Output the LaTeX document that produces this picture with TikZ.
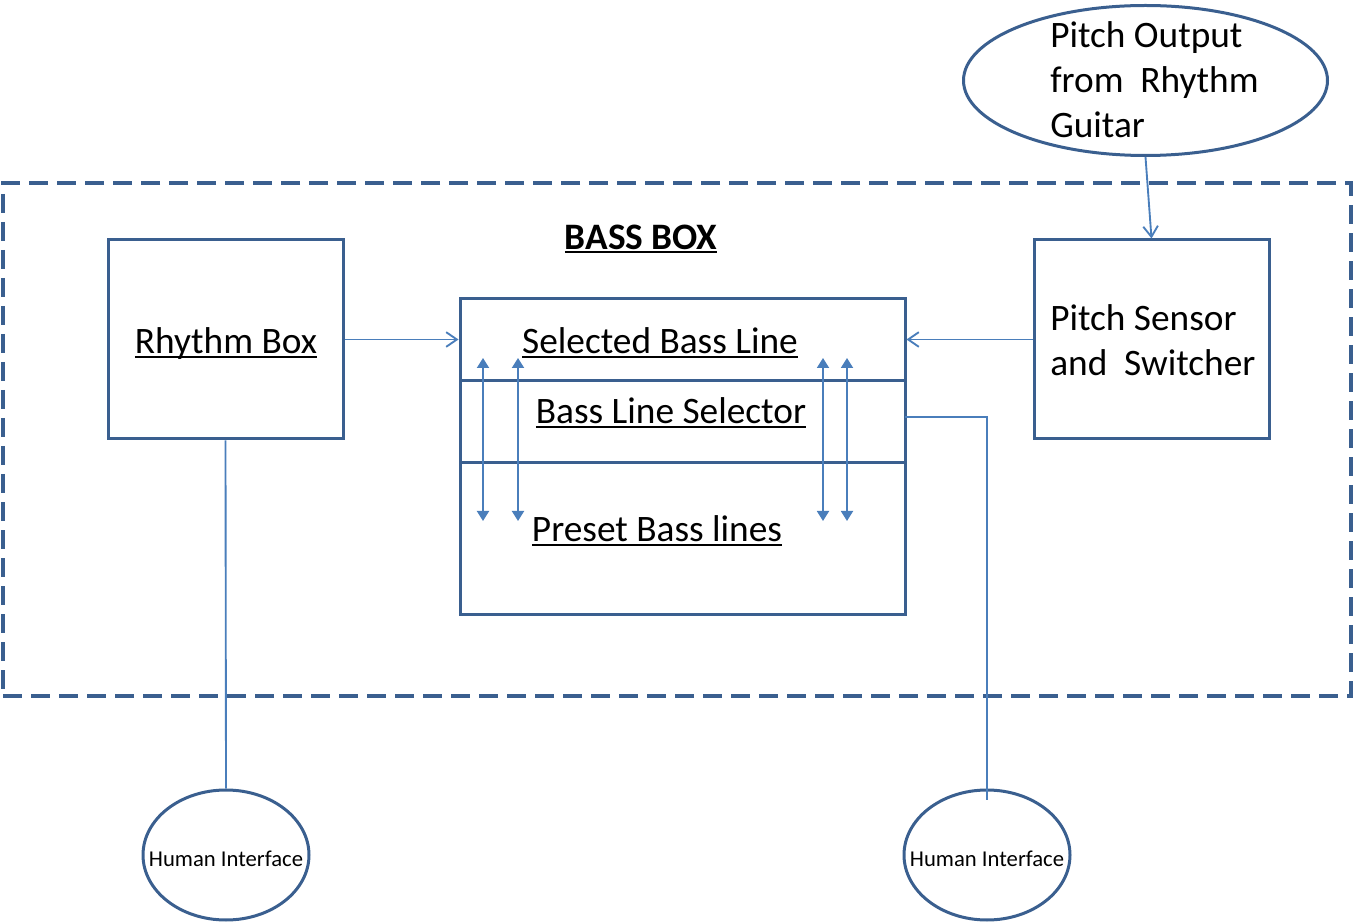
\documentclass[tikz,border=0pt]{standalone}
\usepackage{fontspec}
\setmainfont{Carlito}
\usetikzlibrary{arrows.meta,shapes.geometric}
\definecolor{shapeblue}{HTML}{3A5F8F}
\definecolor{lineblue}{HTML}{4A7EBB}
\newcommand\myul[1]{\setbox0\hbox{#1}\rlap{\rule[-3pt]{\wd0}{1.5pt}}\box0}
\begin{document}
\begin{tikzpicture}[x=0.75pt,y=-0.75pt,
  blk/.style={draw=shapeblue,line width=2.25pt,inner sep=0pt,rectangle},
  ell/.style={draw=shapeblue,line width=2.25pt,inner sep=0pt,ellipse},
  conn/.style={draw=lineblue,line width=1.4pt},
  openarrow/.style={-{Straight Barb[length=8pt,width=11pt]}},
  dblarrow/.style={{Triangle[length=7.5pt,width=9pt]}-{Triangle[length=7.5pt,width=9pt]}},
  big/.style={font=\fontsize{28}{33.75}\selectfont,inner sep=0pt},
  small/.style={font=\fontsize{17}{20}\selectfont,inner sep=0pt}]
\useasboundingbox (0,0) rectangle (1354,923);

% outer dashed boundary
\node[draw=shapeblue,line width=3pt,dash pattern=on 14pt off 7pt,rectangle,
      minimum width=1011pt,minimum height=384.75pt,inner sep=0pt] (bassbox) at (677,439.5) {};

% boxes
\node[blk,minimum width=176.25pt,minimum height=149.25pt] (rb) at (225.5,339.5) {};
\node[blk,minimum width=176.25pt,minimum height=149.25pt] (ps) at (1151.5,339.5) {};
\node[blk,minimum width=333.75pt,minimum height=236.25pt] (mid) at (682.5,456.5) {};
\draw[draw=shapeblue,line width=2.25pt] (460,381) -- (905,381);
\draw[draw=shapeblue,line width=2.25pt] (460,463) -- (905,463);

% ellipses
\node[ell,minimum width=273pt,minimum height=112.5pt] (po) at (1145.5,80.5) {};
\node[ell,minimum width=124.5pt,minimum height=97.5pt,small] (hi1) at (226,855) {};
\node[ell,minimum width=124.5pt,minimum height=97.5pt,small] (hi2) at (987,855) {};

% texts
\node[big,anchor=base] (t1) at (641,249.5) {\myul{\bfseries BASS BOX}};
\node[big,anchor=base] (t2) at (226,354) {\myul{Rhythm Box}};
\node[big,anchor=base] (t3) at (660,354) {\myul{Selected Bass Line}};
\node[big,anchor=base] (t4) at (671,424) {\myul{Bass Line Selector}};
\node[big,anchor=base] (t5) at (657,541.5) {\myul{Preset Bass lines}};
\node[big,anchor=base west] (ps1) at (1050,330.5) {Pitch Sensor};
\node[big,anchor=base west] (ps2) at (1050,375.5) {and\ \ Switcher};
\node[big,anchor=base west] (po1) at (1050,48) {Pitch Output};
\node[big,anchor=base west] (po2) at (1050,93) {from\ \ Rhythm};
\node[big,anchor=base west] (po3) at (1050,138) {Guitar};
\node[small,anchor=base] (h1) at (226,866) {Human Interface};
\node[small,anchor=base] (h2) at (987,866) {Human Interface};

% connectors
\draw[conn,openarrow] (rb.east) -- (rb.east -| mid.west);
\draw[conn,openarrow] (ps.west) -- (ps.west -| mid.east);
\draw[conn,openarrow] (po.south) -- (ps.north);
\draw[conn] (rb.south) -- (hi1.north);
\coordinate (selout) at (905,417);
\coordinate (hi2top) at (987,800);
\draw[conn] (selout) -| (hi2top);

% double arrows
\coordinate (a1t) at (483,358); \coordinate (a1b) at (483,521);
\coordinate (a2t) at (518,358); \coordinate (a2b) at (518,521);
\coordinate (a3t) at (823,358); \coordinate (a3b) at (823,521);
\coordinate (a4t) at (847,358); \coordinate (a4b) at (847,521);
\draw[conn,dblarrow] (a1t) -- (a1b);
\draw[conn,dblarrow] (a2t) -- (a2b);
\draw[conn,dblarrow] (a3t) -- (a3b);
\draw[conn,dblarrow] (a4t) -- (a4b);
\end{tikzpicture}
\end{document}
